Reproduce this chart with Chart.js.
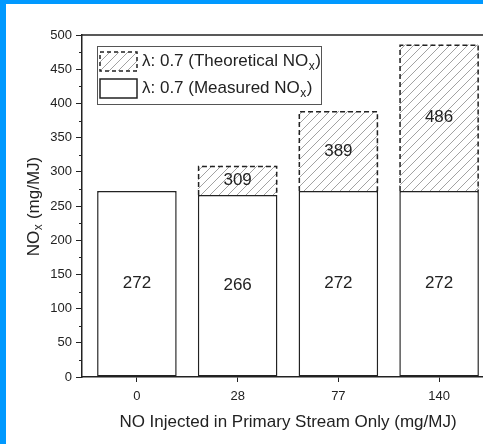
<!DOCTYPE html>
<html>
<head>
<meta charset="utf-8">
<script src="https://cdn.jsdelivr.net/npm/chart.js@4/dist/chart.umd.min.js"></script>
<style>
  html, body { margin: 0; padding: 0; background: #fff; overflow: hidden; width: 483px; height: 444px; }
  #wrap { position: absolute; left: 0; top: 0; width: 500px; height: 444px; }
  .edgeL { position: absolute; left: 0; top: 0; width: 6px; height: 444px; background: #0099ff; }
  .edgeT { position: absolute; left: 0; top: 0; width: 483px; height: 4px; background: #0099ff; }
</style>
</head>
<body>
<div id="wrap"><canvas id="chart" width="500" height="444"></canvas></div>
<div class="edgeL"></div>
<div class="edgeT"></div>
<script>
// NO injected into the primary stream (mg/MJ)
const injectedNO = ['0', '28', '77', '140'];
// Measured NOx at lambda 0.7 (mg/MJ)
const measuredNOx = [272, 266, 272, 272];
// Theoretical NOx at lambda 0.7 (mg/MJ); none for the baseline case
const theoreticalNOx = [null, 309, 389, 486];
// Legend entries
const legendLabels = ['λ: 0.7 (Theoretical NO', 'λ: 0.7 (Measured NO'];
const xTitle = 'NO Injected in Primary Stream Only (mg/MJ)';
const yTitle = ['NO', ' (mg/MJ)'];

const FONT = '"Liberation Sans", Arial, sans-serif';
const INK = '#222';
Chart.defaults.font.family = FONT;

const canvas = document.getElementById('chart');
const ctx = canvas.getContext('2d');

function makeHatch() {
  const t = document.createElement('canvas');
  t.width = 9; t.height = 9;
  const g = t.getContext('2d');
  g.strokeStyle = '#8a8a8a';
  g.lineWidth = 0.8;
  g.beginPath();
  g.moveTo(0, 9); g.lineTo(9, 0);
  g.moveTo(-2, 2); g.lineTo(2, -2);
  g.moveTo(7, 11); g.lineTo(11, 7);
  g.stroke();
  return ctx.createPattern(t, 'repeat');
}
const hatch = makeHatch();

// Text with a subscript "x" after the main part, then a closing tail
function drawSubText(c, main, tail, x, y, size) {
  c.font = size + 'px ' + FONT;
  c.textAlign = 'left';
  c.textBaseline = 'middle';
  c.fillText(main, x, y);
  let w = c.measureText(main).width;
  const s = Math.round(size * 0.68);
  c.font = s + 'px ' + FONT;
  c.fillText('x', x + w + 0.5, y + size * 0.3);
  w += c.measureText('x').width + 1;
  c.font = size + 'px ' + FONT;
  c.fillText(tail, x + w, y);
}

const decorations = {
  id: 'decorations',
  afterDatasetsDraw(chart) {
    const c = chart.ctx;
    const area = chart.chartArea;
    const yScale = chart.scales.y;
    c.save();

    // dashed outline of the theoretical bars (top and sides)
    const tMeta = chart.getDatasetMeta(1);
    c.strokeStyle = INK;
    c.lineWidth = 1.5;
    c.setLineDash([5, 3]);
    tMeta.data.forEach((bar, i) => {
      if (theoreticalNOx[i] == null) return;
      const l = bar.x - bar.width / 2 + 0.75, r = bar.x + bar.width / 2 - 0.75;
      c.beginPath();
      c.moveTo(l, bar.base);
      c.lineTo(l, bar.y + 0.75);
      c.lineTo(r, bar.y + 0.75);
      c.lineTo(r, bar.base);
      c.stroke();
    });
    c.setLineDash([]);

    // value labels
    c.fillStyle = INK;
    c.font = '17px ' + FONT;
    c.textAlign = 'center';
    c.textBaseline = 'middle';
    chart.getDatasetMeta(0).data.forEach((bar, i) => {
      c.fillText(String(measuredNOx[i]), bar.x, (bar.y + bar.base) / 2);
    });
    tMeta.data.forEach((bar, i) => {
      if (theoreticalNOx[i] == null) return;
      c.fillText(String(theoreticalNOx[i]), bar.x, (bar.y + bar.base) / 2);
    });

    // top frame line
    c.strokeStyle = INK;
    c.lineWidth = 1.5;
    c.beginPath();
    c.moveTo(area.left, area.top);
    c.lineTo(area.right, area.top);
    c.stroke();

    // minor ticks on the value axis
    c.lineWidth = 1;
    for (let v = 25; v < 500; v += 50) {
      const py = Math.round(yScale.getPixelForValue(v)) + 0.5;
      c.beginPath();
      c.moveTo(area.left - 3, py);
      c.lineTo(area.left, py);
      c.stroke();
    }

    // legend
    const lx = 97.5, ly = 46.5, lw = 224, lh = 58;
    c.fillStyle = '#fff';
    c.fillRect(lx, ly, lw, lh);
    c.strokeStyle = '#555';
    c.lineWidth = 1;
    c.strokeRect(lx, ly, lw, lh);

    c.fillStyle = hatch;
    c.fillRect(100, 52, 37, 19);
    c.strokeStyle = INK;
    c.lineWidth = 1.5;
    c.setLineDash([4, 3]);
    c.strokeRect(100, 52, 37, 19);
    c.setLineDash([]);
    c.fillStyle = '#fff';
    c.fillRect(100, 79, 37, 19);
    c.strokeRect(100, 79, 37, 19);

    c.fillStyle = INK;
    drawSubText(c, legendLabels[0], ')', 142, 61.5, 17);
    drawSubText(c, legendLabels[1], ')', 142, 88.5, 17);

    // value axis title
    c.save();
    c.translate(34, (area.top + area.bottom) / 2);
    c.rotate(-Math.PI / 2);
    c.font = '17px ' + FONT;
    const full = c.measureText(yTitle[0]).width + 8 + c.measureText(yTitle[1]).width;
    drawSubText(c, yTitle[0], yTitle[1], -full / 2, 0, 17);
    c.restore();

    c.restore();
  }
};

new Chart(ctx, {
  type: 'bar',
  data: {
    datasets: [
      {
        label: 'Measured',
        data: measuredNOx.map((v, i) => ({ x: i, y: v })),
        backgroundColor: '#fff',
        borderColor: INK,
        borderWidth: 1.5,
        borderSkipped: false,
        stack: 'nox',
        barPercentage: 0.79,
        categoryPercentage: 1
      },
      {
        label: 'Theoretical',
        data: theoreticalNOx.map((v, i) => ({ x: i, y: v == null ? null : [measuredNOx[i], v] })),
        backgroundColor: hatch,
        borderWidth: 0,
        stack: 'nox',
        barPercentage: 0.79,
        categoryPercentage: 1
      }
    ]
  },
  options: {
    responsive: false,
    animation: false,
    devicePixelRatio: 1,
    layout: { padding: { left: 0, top: 35, right: 6, bottom: 0 } },
    plugins: { legend: { display: false }, tooltip: { enabled: false } },
    scales: {
      x: {
        type: 'linear',
        min: -0.545,
        max: 3.545,
        stacked: true,
        offset: false,
        afterBuildTicks: (s) => { s.ticks = injectedNO.map((_, i) => ({ value: i })); },
        afterFit: (s) => { s.height = 67; },
        ticks: {
          callback: (v) => injectedNO[v],
          font: { size: 13 },
          color: INK,
          padding: 7,
          maxRotation: 0
        },
        grid: { offset: false, drawOnChartArea: false, drawTicks: true, tickLength: 5, tickColor: INK, tickWidth: 1 },
        border: { display: true, color: INK, width: 1.5 },
        title: { display: true, text: xTitle, font: { size: 17 }, color: INK, padding: { top: 11, bottom: 11 } }
      },
      y: {
        min: 0,
        max: 500,
        stacked: false,
        afterFit: (s) => { s.width = 82; },
        ticks: { stepSize: 50, font: { size: 13 }, color: INK, padding: 4 },
        grid: { drawOnChartArea: false, drawTicks: true, tickLength: 6, tickColor: INK, tickWidth: 1 },
        border: { display: true, color: INK, width: 1.5 }
      }
    }
  },
  plugins: [decorations]
});
</script>
</body>
</html>
